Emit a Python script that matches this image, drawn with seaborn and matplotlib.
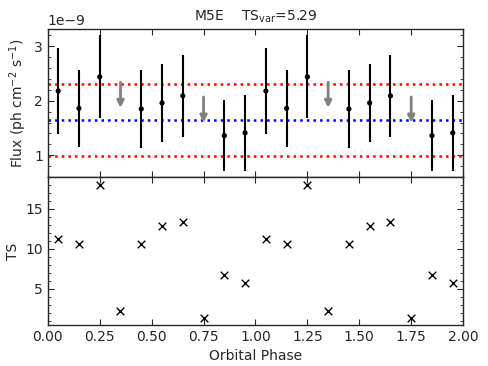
import numpy as np
import pandas as pd
import matplotlib
matplotlib.use("Agg")
import matplotlib.pyplot as plt
import seaborn as sns
from matplotlib.ticker import AutoMinorLocator

# flux per phase bin (units of 1e-9 ph cm^-2 s^-1), one orbit, repeated twice
phase = [0.05, 0.15, 0.25, 0.35, 0.45, 0.55, 0.65, 0.75, 0.85, 0.95]
flux = [2.18, 1.86, 2.44, np.nan, 1.85, 1.96, 2.09, np.nan, 1.36, 1.41]
flux_err = [0.79, 0.71, 0.76, np.nan, 0.71, 0.71, 0.75, np.nan, 0.65, 0.70]
ul_phase = [0.35, 0.75]
ul_flux = [2.34, 2.07]
ts = [11.24, 10.66, 18.05, 2.27, 10.58, 12.85, 13.38, 1.36, 6.81, 5.74]

mean_flux = 1.65
band_hi = 2.31
band_lo = 0.99

df = pd.DataFrame({
    "phase": phase + [p + 1 for p in phase],
    "flux": [f * 1e-9 for f in flux] * 2,
    "err": [e * 1e-9 for e in flux_err] * 2,
    "ts": ts * 2,
})
ul = pd.DataFrame({
    "phase": ul_phase + [p + 1 for p in ul_phase],
    "flux": [f * 1e-9 for f in ul_flux] * 2,
})

sns.set_style("ticks")
plt.rcParams["font.family"] = ["DejaVu Sans"]

fig, (ax1, ax2) = plt.subplots(2, 1, figsize=(4.88, 3.66), dpi=100, sharex=True)
fig.subplots_adjust(left=0.098, right=0.949, top=0.921, bottom=0.112, hspace=0)

# top panel: flux light curve
ok = df.dropna()
ax1.errorbar(ok["phase"], ok["flux"], yerr=ok["err"], fmt="none",
             ecolor="black", elinewidth=1.5, capsize=0, zorder=3)
sns.scatterplot(data=ok, x="phase", y="flux", ax=ax1, color="black",
                s=14, edgecolor="none", zorder=4, legend=False)
for x, y in zip(ul["phase"], ul["flux"]):
    ax1.annotate("", xy=(x, y - 0.47e-9), xytext=(x, y),
                 arrowprops=dict(arrowstyle="-|>", color="grey", lw=2.0,
                                 mutation_scale=10, shrinkA=0, shrinkB=0))
ax1.axhline(band_hi * 1e-9, color="red", ls=":", lw=1.8)
ax1.axhline(band_lo * 1e-9, color="red", ls=":", lw=1.8)
ax1.axhline(mean_flux * 1e-9, color="blue", ls=":", lw=1.8)
ax1.set_ylim(0.6e-9, 3.32e-9)
ax1.set_ylabel("Flux (ph cm$^{-2}$ s$^{-1}$)")
ax1.set_xlabel("")
ax1.set_title("M5E    TS$_{\\rm var}$=5.29", fontsize=10)

# bottom panel: TS per bin
sns.scatterplot(data=df, x="phase", y="ts", ax=ax2, marker="x", color="black",
                s=30, linewidth=1.0, legend=False)
ax2.set_ylim(0.5, 19)
ax2.set_yticks([5, 10, 15])
ax2.set_ylabel("TS")
ax2.set_xlabel("Orbital Phase")
ax2.set_xlim(0, 2)
ax2.set_xticks([0, 0.25, 0.5, 0.75, 1.0, 1.25, 1.5, 1.75, 2.0])

for ax in (ax1, ax2):
    ax.yaxis.set_minor_locator(AutoMinorLocator(5))
    ax.tick_params(which="both", direction="in", top=True, right=True)
    ax.tick_params(which="major", length=4)
    ax.tick_params(which="minor", length=2)
    for sp in ax.spines.values():
        sp.set_linewidth(1.0)

fig.savefig("out.png", dpi=100)
